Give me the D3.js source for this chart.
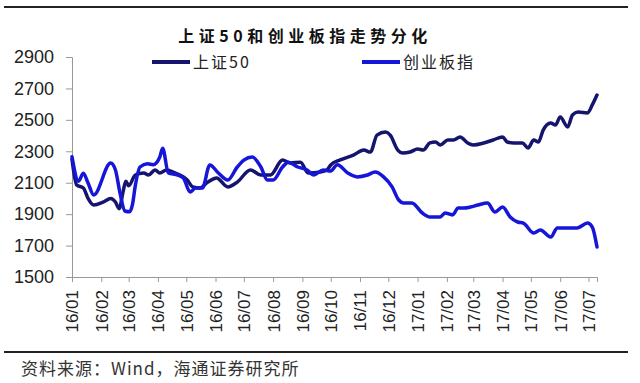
<!DOCTYPE html>
<html>
<head>
<meta charset="utf-8">
<script src="https://cdn.jsdelivr.net/npm/d3@7"></script>
<style>
  body { margin: 0; background: #fff; }
  svg { display: block; }
</style>
</head>
<body>
<svg width="640" height="383"></svg>
<script>
// 上证50 — dates and index levels
const sz50Dates = ["2016-01-01","2016-01-06","2016-01-13","2016-01-18","2016-01-24","2016-02-03","2016-02-11","2016-02-16","2016-02-20","2016-02-24","2016-02-27","2016-03-01","2016-03-08","2016-03-17","2016-03-22","2016-03-29","2016-04-03","2016-04-10","2016-04-19","2016-05-02","2016-05-08","2016-05-15","2016-05-24","2016-06-02","2016-06-14","2016-06-24","2016-07-08","2016-07-19","2016-07-29","2016-08-11","2016-08-19","2016-08-30","2016-09-07","2016-09-20","2016-09-27","2016-10-01","2016-10-11","2016-10-25","2016-11-05","2016-11-12","2016-11-19","2016-11-28","2016-12-03","2016-12-11","2016-12-16","2016-12-24","2017-01-01","2017-01-07","2017-01-14","2017-01-20","2017-01-25","2017-02-02","2017-02-08","2017-02-15","2017-02-23","2017-03-01","2017-03-12","2017-03-22","2017-04-01","2017-04-06","2017-04-13","2017-04-22","2017-04-28","2017-05-04","2017-05-09","2017-05-14","2017-05-22","2017-05-27","2017-06-01","2017-06-09","2017-06-14","2017-06-20","2017-06-30","2017-07-05","2017-07-10"];
const sz50Values = [2250,2085,2066,2000,1958,1977,2000,1977,1935,2040,2110,2080,2149,2162,2149,2181,2162,2181,2162,2117,2073,2066,2104,2130,2073,2104,2181,2149,2149,2244,2225,2231,2162,2168,2181,2213,2245,2276,2308,2295,2403,2422,2403,2308,2289,2295,2314,2308,2353,2359,2340,2372,2372,2391,2353,2340,2353,2372,2391,2359,2353,2353,2321,2372,2359,2435,2480,2467,2518,2455,2531,2550,2544,2595,2658];

// 创业板指
const cybDates = ["2016-01-01","2016-01-08","2016-01-13","2016-01-18","2016-01-24","2016-02-11","2016-02-16","2016-02-21","2016-02-26","2016-03-02","2016-03-05","2016-03-08","2016-03-13","2016-03-21","2016-03-27","2016-04-03","2016-04-06","2016-04-12","2016-04-22","2016-04-28","2016-05-05","2016-05-11","2016-05-18","2016-05-26","2016-06-04","2016-06-14","2016-06-24","2016-07-01","2016-07-10","2016-07-19","2016-07-26","2016-08-01","2016-08-11","2016-08-17","2016-08-27","2016-09-06","2016-09-13","2016-09-23","2016-10-01","2016-10-08","2016-10-19","2016-10-29","2016-11-09","2016-11-17","2016-11-26","2016-12-05","2016-12-12","2016-12-17","2016-12-26","2017-01-06","2017-01-14","2017-01-25","2017-01-30","2017-02-07","2017-02-13","2017-02-19","2017-02-26","2017-03-06","2017-03-16","2017-03-24","2017-04-01","2017-04-09","2017-04-17","2017-04-23","2017-05-04","2017-05-11","2017-05-22","2017-05-29","2017-06-09","2017-06-19","2017-06-30","2017-07-05","2017-07-10"];
const cybValues = [2265,2110,2160,2098,2022,2225,2181,2030,1920,1915,1960,2080,2200,2220,2215,2264,2320,2162,2149,2130,2041,2066,2066,2213,2162,2117,2200,2244,2264,2200,2117,2117,2200,2231,2200,2181,2149,2181,2175,2215,2162,2137,2149,2168,2137,2073,1990,1971,1971,1907,1882,1882,1907,1895,1939,1939,1945,1958,1971,1913,1945,1882,1850,1843,1780,1799,1754,1812,1812,1812,1843,1818,1691];

const yTicks = [1500,1700,1900,2100,2300,2500,2700,2900];
const seriesNames = ["上证50","创业板指"];
const seriesColors = ["#15156e","#1616d8"];

const svg = d3.select("svg");
const parse = d3.timeParse("%Y-%m-%d");

const x = d3.scaleTime()
  .domain([parse("2016-01-01"), parse("2017-07-10")])
  .range([72, 597]);
const y = d3.scaleLinear()
  .domain([1500, 2900])
  .range([277, 57]);

// rules at top and above the source note
svg.append("line").attr("x1", 4).attr("x2", 628).attr("y1", 7).attr("y2", 7)
  .attr("stroke", "#222").attr("stroke-width", 2);
svg.append("line").attr("x1", 4).attr("x2", 628).attr("y1", 352).attr("y2", 352)
  .attr("stroke", "#222").attr("stroke-width", 2);

svg.append("text")
  .attr("x", 305).attr("y", 42)
  .attr("text-anchor", "middle")
  .style("font-family", "'Noto Sans CJK SC', sans-serif")
  .style("font-weight", "bold")
  .style("font-size", "16px")
  .style("letter-spacing", "4.5px")
  .attr("fill", "#111")
  .text("上证50和创业板指走势分化");

// axes
const yAxis = d3.axisLeft(y).tickValues(yTicks).tickFormat(d3.format("d")).tickSize(6).tickPadding(12);
const gy = svg.append("g").attr("transform", "translate(72,0)").call(yAxis);
gy.select(".domain").attr("stroke", "#999");
gy.selectAll(".tick line").attr("stroke", "#999");
gy.selectAll(".tick text")
  .style("font-family", "'Liberation Sans', Arial, sans-serif")
  .style("font-size", "18px")
  .attr("fill", "#222");

const xAxis = d3.axisBottom(x)
  .ticks(d3.timeMonth.every(1))
  .tickFormat(d3.timeFormat("%y/%m"))
  .tickSizeOuter(0)
  .tickSize(5);
const gx = svg.append("g").attr("transform", "translate(0,277)").call(xAxis);
gx.select(".domain").attr("stroke", "#999");
gx.selectAll(".tick line").attr("stroke", "#999");
gx.selectAll(".tick text")
  .style("font-family", "'Liberation Sans', Arial, sans-serif")
  .style("font-size", "17px")
  .attr("fill", "#222")
  .attr("text-anchor", "end")
  .attr("transform", "rotate(-90)")
  .attr("x", -13)
  .attr("y", 0)
  .attr("dy", "0.35em");

// lines
const line = d3.line()
  .x((d) => x(d[0]))
  .y((d) => y(d[1]))
  .curve(d3.curveMonotoneX);

const series = [
  d3.zip(sz50Dates.map(parse), sz50Values),
  d3.zip(cybDates.map(parse), cybValues)
];

svg.append("g")
  .selectAll("path")
  .data(series)
  .enter()
  .append("path")
    .attr("d", line)
    .attr("fill", "none")
    .attr("stroke", (d, i) => seriesColors[i])
    .attr("stroke-width", 3.5)
    .attr("stroke-linejoin", "round")
    .attr("stroke-linecap", "round");

// legend
const legendX = [152, 362];
const lg = svg.append("g")
  .selectAll("g")
  .data(seriesNames)
  .enter()
  .append("g")
  .attr("transform", (d, i) => `translate(${legendX[i]},62)`);
lg.append("line")
  .attr("x1", 0).attr("x2", 38)
  .attr("stroke", (d, i) => seriesColors[i])
  .attr("stroke-width", 4);
lg.append("text")
  .attr("x", 41).attr("y", 6)
  .style("font-family", "'Noto Sans CJK SC', sans-serif")
  .style("font-size", "16px")
  .style("letter-spacing", "2px")
  .attr("fill", "#222")
  .text((d) => d);

// source note
svg.append("text")
  .attr("x", 21).attr("y", 375)
  .style("font-family", "'Noto Sans CJK SC', sans-serif")
  .style("font-size", "17px")
  .style("letter-spacing", "1px")
  .attr("fill", "#333")
  .text("资料来源：Wind，海通证券研究所");
</script>
</body>
</html>
